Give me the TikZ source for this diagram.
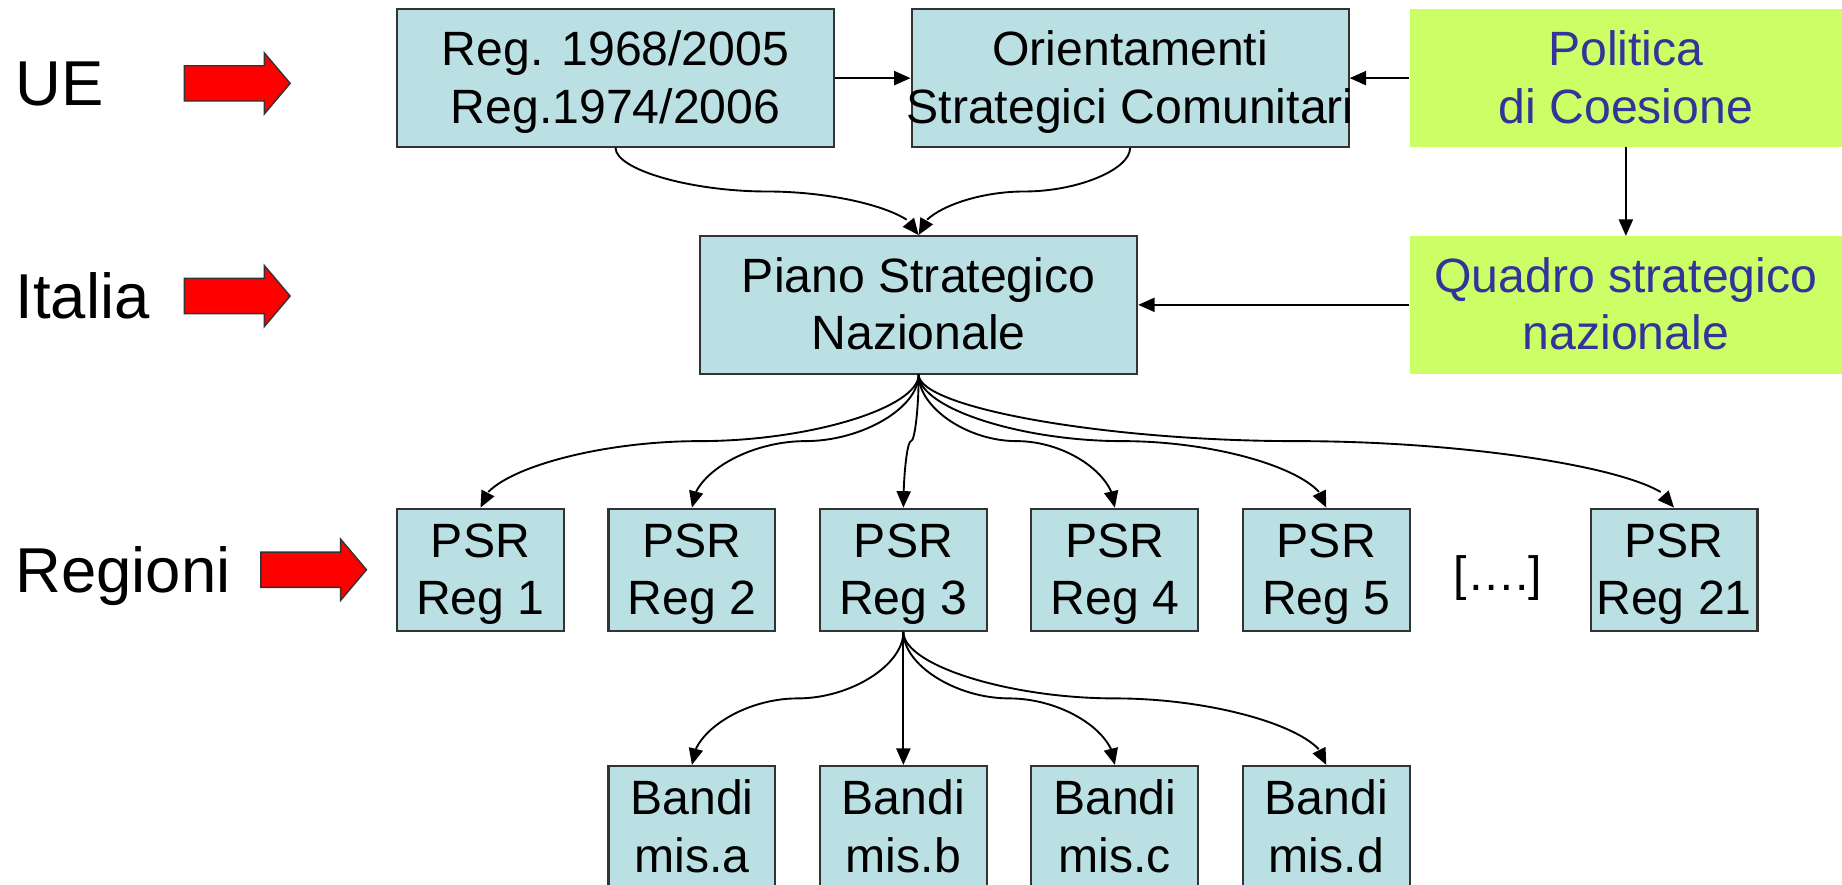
\documentclass[tikz,border=0pt]{standalone}
\usepackage{fontspec}
\setmainfont{Liberation Sans}
\usetikzlibrary{arrows.meta,calc,bending}
\definecolor{boxblue}{HTML}{BBE0E3}
\definecolor{boxgreen}{HTML}{CCFF66}
\definecolor{txtblue}{HTML}{333399}
\newcommand{\bxt}[1]{\makebox[0pt][c]{\raisebox{-4pt}[\height][\depth]{\begin{tabular}{@{}c@{}}#1\end{tabular}}}}
\begin{document}
\begin{tikzpicture}[x=1pt,y=-1pt,
  bluebox/.style={draw=black!80, line width=1.8pt, fill=boxblue, inner sep=0pt,
    font=\fontsize{41}{49}\selectfont},
  bigbox/.style={minimum width=372pt, minimum height=117pt},
  smallbox/.style={minimum width=142pt, minimum height=104pt},
  greenbox/.style={fill=boxgreen, inner sep=0pt, text=txtblue,
    minimum width=368pt, minimum height=117pt, font=\fontsize{41}{49}\selectfont},
  lab/.style={inner sep=0pt, anchor=base west, font=\fontsize{54}{60}\selectfont},
  conn/.style={draw=black, line width=1.6pt, -{Triangle[length=14pt,width=12pt,flex]}},
  ppc/.style={to path={let \p1=(\tikztostart), \p2=(\tikztotarget) in
    .. controls (\x1,{0.75*\y1+0.25*\y2}) and ({0.75*\x1+0.25*\x2},{0.5*\y1+0.5*\y2})
    .. ({0.5*\x1+0.5*\x2},{0.5*\y1+0.5*\y2})
    .. controls ({0.25*\x1+0.75*\x2},{0.5*\y1+0.5*\y2}) and (\x2,{0.25*\y1+0.75*\y2})
    .. (\x2,\y2)}},
  redarr/.pic={\draw[fill=red, draw=black!80, line width=1.2pt]
    (0,-15) -- (68,-15) -- (68,-26) -- (90,0) -- (68,26) -- (68,15) -- (0,15) -- cycle;}
]
\fill[white] (0,0) rectangle (1568,753);
\useasboundingbox (0,0) rectangle (1568,753);

% level labels
\node[lab] (ue) at (13,90) {UE};
\node[lab] (it) at (13,271) {Italia};
\node[lab] (rg) at (13,504) {Regioni};
\pic at (157,71) {redarr};
\pic at (157,252) {redarr};
\pic at (222,485) {redarr};

% top row
\node[bluebox,bigbox] (reg) at (524,66.5) {\bxt{Reg. 1968/2005\\Reg.1974/2006}};
\node[bluebox,bigbox] (ori) at (962,66.5) {\bxt{Orientamenti\\Strategici Comunitari}};
\node[greenbox] (pol) at (1384,66.5) {\bxt{Politica\\di Coesione}};

% middle row
\node[bluebox,bigbox] (pia) at (782,259.5) {\bxt{Piano Strategico\\Nazionale}};
\node[greenbox] (qua) at (1384,259.5) {\bxt{Quadro strategico\\nazionale}};

% regions
\node[bluebox,smallbox] (psr1) at (409,485) {\bxt{PSR\\Reg 1}};
\node[bluebox,smallbox] (psr2) at (589,485) {\bxt{PSR\\Reg 2}};
\node[bluebox,smallbox] (psr3) at (769,485) {\bxt{PSR\\Reg 3}};
\node[bluebox,smallbox] (psr4) at (949,485) {\bxt{PSR\\Reg 4}};
\node[bluebox,smallbox] (psr5) at (1129,485) {\bxt{PSR\\Reg 5}};
\node[inner sep=0pt, font=\fontsize{41}{49}\selectfont] (dots) at (1275,492) {[….]};
\node[bluebox,smallbox] (psr21) at (1425,485) {\bxt{PSR\\Reg 21}};

% bandi
\node[bluebox,smallbox] (ba) at (589,704) {\bxt{Bandi\\mis.a}};
\node[bluebox,smallbox] (bb) at (769,704) {\bxt{Bandi\\mis.b}};
\node[bluebox,smallbox] (bc) at (949,704) {\bxt{Bandi\\mis.c}};
\node[bluebox,smallbox] (bd) at (1129,704) {\bxt{Bandi\\mis.d}};

% connectors
\draw[conn] (reg.east) -- (ori.west);
\draw[conn] (pol.west) -- (ori.east);
\draw[conn] (pol.south) -- (qua.north);
\draw[conn] (qua.west) -- (pia.east);
\draw[conn] (reg.south) to[ppc] (pia.north);
\draw[conn] (ori.south) to[ppc] (pia.north);
\foreach \t in {psr1,psr2,psr3,psr4,psr5,psr21}
  \draw[conn] (pia.south) to[ppc] (\t.north);
\foreach \t in {ba,bb,bc,bd}
  \draw[conn] (psr3.south) to[ppc] (\t.north);
\end{tikzpicture}
\end{document}
